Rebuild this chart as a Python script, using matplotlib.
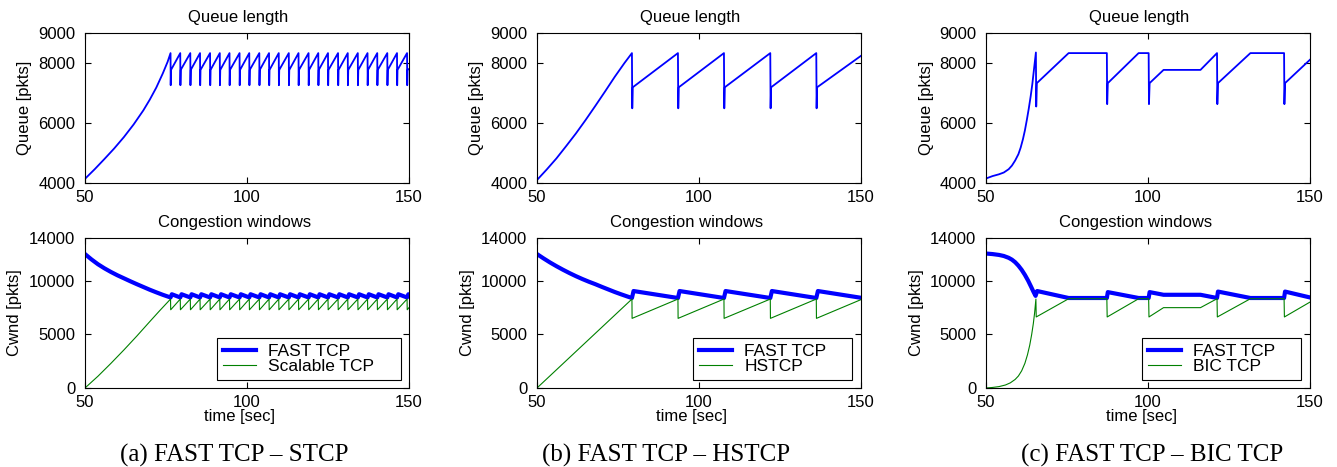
import matplotlib
matplotlib.use("Agg")
import matplotlib.pyplot as plt

plt.rcParams['font.family'] = ['Liberation Sans', 'DejaVu Sans']

# ---------------- data ----------------
# (a) FAST TCP - STCP
a_peaks = [76.4, 79.4, 82.5, 85.5, 88.6, 91.6, 94.6, 97.7, 100.7, 103.8,
           106.8, 109.8, 112.9, 115.9, 119.0, 122.0, 125.0, 128.1, 131.1,
           134.2, 137.2, 140.2, 143.3, 146.3, 149.4]
a_q_pre_t = [50, 53, 56, 59, 62, 65, 68, 70, 72, 74, 75.5, 76.4]
a_q_pre_v = [4140, 4460, 4800, 5150, 5530, 5950, 6420, 6780, 7180, 7650, 8040, 8330]
a_q_top, a_q_drop, a_q_back, a_q_end = 8330, 7260, 7770, 7800
a_f_pre_t = [50, 52, 54, 56, 58, 60, 62, 64, 66, 68, 70, 72, 74, 76.4]
a_f_pre_v = [12500, 12000, 11550, 11170, 10830, 10520, 10240, 9960, 9690,
             9430, 9170, 8930, 8700, 8450]
a_f_top, a_f_jump, a_f_end = 8450, 8750, 8700
a_s_pre_t = [50, 54, 58, 62, 66, 70, 73, 76.4]
a_s_pre_v = [0, 1100, 2300, 3550, 4850, 6200, 7200, 8300]
a_s_top, a_s_drop, a_s_end = 8300, 7300, 7500

# (b) FAST TCP - HSTCP
b_peaks = [79.3, 93.5, 107.7, 122.0, 136.2]
b_q_pre_t = [50, 53, 56, 59, 62, 65, 68, 71, 74, 77, 79.3]
b_q_pre_v = [4100, 4450, 4820, 5230, 5650, 6100, 6570, 7050, 7540, 8000, 8330]
b_q_top, b_q_drop, b_q_back, b_q_end = 8330, 6490, 7190, 8240
b_f_pre_t = [50, 52, 54, 56, 58, 60, 62, 64, 66, 68, 70, 72, 74, 76, 78, 79.3]
b_f_pre_v = [12500, 12100, 11720, 11370, 11040, 10730, 10440, 10170, 9920,
             9690, 9440, 9200, 8960, 8740, 8530, 8400]
b_f_top, b_f_jump, b_f_end = 8400, 9050, 8420
b_h_pre_t = [50, 79.3]
b_h_pre_v = [0, 8300]
b_h_top, b_h_drop, b_h_end = 8300, 6500, 8250

# (c) FAST TCP - BIC TCP
c_q_t = [50, 52, 54, 55.5, 57, 58, 59, 60, 60.7, 61.4, 62, 62.6, 63.2, 63.8,
         64.3, 64.8, 65.4, 65.5, 65.7, 75.5, 87.3, 87.4, 87.6, 97.1, 100.2,
         100.3, 100.5, 104.8, 116.2, 121.3, 121.4, 121.6, 131.6, 142.0, 142.1,
         142.3, 150]
c_q_v = [4150, 4230, 4290, 4350, 4460, 4580, 4750, 4960, 5180, 5460, 5750,
         6100, 6480, 6900, 7300, 7780, 8350, 6550, 7330, 8330, 8330, 6630,
         7330, 8330, 8330, 6630, 7330, 7770, 7770, 8330, 6630, 7330, 8330,
         8330, 6630, 7330, 8110]
c_f_t = [50, 52, 54, 55.5, 57, 58, 59, 60, 61, 62, 63, 64, 64.7, 65.3, 65.8,
         75.5, 87.3, 87.6, 97.1, 100.2, 100.5, 104.8, 116.2, 121.3, 121.6,
         131.6, 142.0, 142.3, 150]
c_f_v = [12550, 12500, 12420, 12320, 12150, 11980, 11740, 11420, 11030, 10560,
         10020, 9400, 8950, 8600, 9050, 8400, 8400, 8950, 8400, 8400, 8950,
         8700, 8700, 8400, 9000, 8400, 8400, 9000, 8450]
c_b_t = [50, 52, 54, 56, 57.5, 59, 60, 61, 62, 62.8, 63.5, 64.1, 64.6, 65.0,
         65.4, 65.5, 75.5, 87.3, 87.4, 97.1, 100.2, 100.3, 104.8, 116.2,
         121.3, 121.4, 131.6, 142.0, 142.1, 150]
c_b_v = [0, 50, 130, 280, 480, 800, 1120, 1600, 2300, 3100, 4000, 5000, 6000,
         7000, 8300, 6630, 8330, 8330, 6630, 8330, 8330, 6630, 7500, 7500,
         8330, 6630, 8330, 8330, 6630, 8020]

captions = ["(a) FAST TCP \u2013 STCP", "(b) FAST TCP \u2013 HSTCP",
            "(c) FAST TCP \u2013 BIC TCP"]
other_names = ["Scalable TCP", "HSTCP", "BIC TCP"]


def periodic(pre_t, pre_v, peaks, top, after, end_v, end_t=150):
    t, v = list(pre_t), list(pre_v)
    for i, tp in enumerate(peaks):
        if i > 0:
            t.append(tp)
            v.append(top)
        for dt, val in after:
            t.append(tp + dt)
            v.append(val)
    t.append(end_t)
    v.append(end_v)
    return t, v


series = []
qa = periodic(a_q_pre_t, a_q_pre_v, a_peaks, a_q_top,
              [(0.05, a_q_drop), (0.15, a_q_back)], a_q_end)
fa = periodic(a_f_pre_t, a_f_pre_v, a_peaks, a_f_top, [(0.4, a_f_jump)], a_f_end)
sa = periodic(a_s_pre_t, a_s_pre_v, a_peaks, a_s_top, [(0.05, a_s_drop)], a_s_end)
series.append((qa, fa, sa))
qb = periodic(b_q_pre_t, b_q_pre_v, b_peaks, b_q_top,
              [(0.1, b_q_drop), (0.25, b_q_back)], b_q_end)
fb = periodic(b_f_pre_t, b_f_pre_v, b_peaks, b_f_top, [(0.5, b_f_jump)], b_f_end)
hb = periodic(b_h_pre_t, b_h_pre_v, b_peaks, b_h_top, [(0.05, b_h_drop)], b_h_end)
series.append((qb, fb, hb))
series.append(((c_q_t, c_q_v), (c_f_t, c_f_v), (c_b_t, c_b_v)))

# ---------------- layout ----------------
W, H = 1337, 467
fig = plt.figure(figsize=(W / 100, H / 100), dpi=100)
lefts = [85, 537, 986]
width = 324
top_row = (33, 183)
bot_row = (238, 388)
cap_x = [234, 666, 1152]
legend_x = [(217, 401), (693, 852), (1142, 1301)]

blue = (0, 0, 1)
green = (0, 0.5, 0)


def style(ax):
    ax.set_xlim(50, 150)
    ax.set_xticks([50, 100, 150])
    ax.tick_params(direction='in', length=4, width=0.8, top=True, right=True,
                   labelsize=12)
    ax.tick_params(axis='y', pad=7)
    ax.tick_params(axis='x', pad=5)
    for s in ax.spines.values():
        s.set_linewidth(0.8)


for i in range(3):
    L = lefts[i]
    (qt, qv), (ft, fv), (ot, ov) = series[i]
    ax1 = fig.add_axes([L / W, 1 - top_row[1] / H, width / W,
                        (top_row[1] - top_row[0]) / H])
    ax1.plot(qt, qv, color=blue, lw=1.3)
    style(ax1)
    ax1.set_ylim(4000, 9000)
    ax1.set_yticks([4000, 6000, 8000, 9000])
    ax1.text(0.5 - 8.5 / width, 1 + 8 / 150, "Queue length", transform=ax1.transAxes,
             ha='center', va='bottom', fontsize=12)
    fig.text((L - 60) / W, 1 - 108 / H, "Queue [pkts]", rotation=90,
             ha='center', va='center', fontsize=12)

    ax2 = fig.add_axes([L / W, 1 - bot_row[1] / H, width / W,
                        (bot_row[1] - bot_row[0]) / H])
    ax2.plot(ft, fv, color=blue, lw=3, label="FAST TCP")
    ax2.plot(ot, ov, color=green, lw=0.8, label=other_names[i])
    style(ax2)
    ax2.set_ylim(0, 14000)
    ax2.set_yticks([0, 5000, 10000, 14000])
    ax2.text(0.5 - 12 / width, 1 + 8 / 150, "Congestion windows",
             transform=ax2.transAxes, ha='center', va='bottom', fontsize=12)
    fig.text((L - 70) / W, 1 - 313 / H, "Cwnd [pkts]", rotation=90,
             ha='center', va='center', fontsize=12)
    fig.text((L + width / 2 - 7) / W, 1 - 417 / H, "time [sec]",
             ha='center', va='center', fontsize=12)
    lx0, lx1 = legend_x[i]
    leg = ax2.legend(
        loc='lower left',
        bbox_to_anchor=((lx0 - L) / width, 8 / 150, (lx1 - lx0) / width, 0.3),
        mode='expand', borderaxespad=0, fontsize=12.5, frameon=True,
        fancybox=False, framealpha=1, edgecolor='black',
        handlelength=1.9, handletextpad=0.7, labelspacing=0.0, borderpad=0.35)
    leg.get_frame().set_linewidth(0.8)

    fig.text(cap_x[i] / W, 1 - 462 / H, captions[i], ha='center', va='baseline',
             fontsize=18, family=['Liberation Serif', 'DejaVu Serif'])

fig.savefig("out.png", dpi=100)
